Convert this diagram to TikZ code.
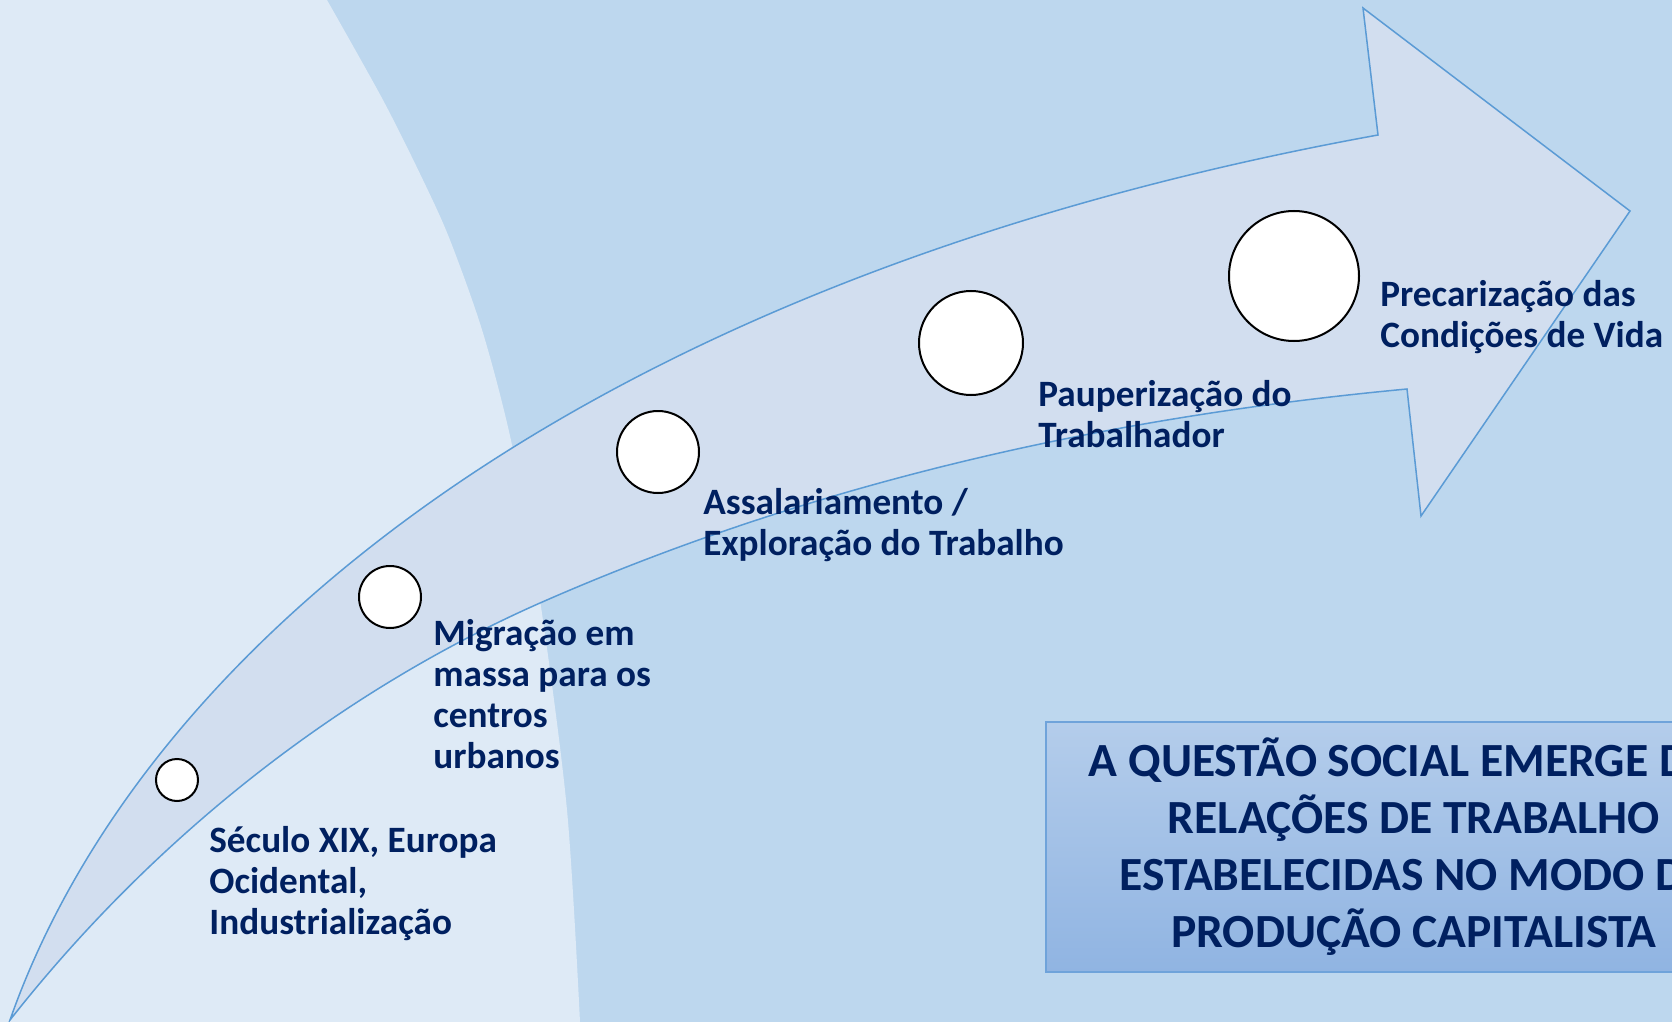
\documentclass[tikz,border=0pt]{standalone}
\usepackage{fontspec}
\setmainfont{Carlito}

\definecolor{fundo}{HTML}{BDD7EE}
\definecolor{fundoclaro}{HTML}{DEEAF6}
\definecolor{seta}{HTML}{D2DEEF}
\definecolor{contorno}{HTML}{5B9BD5}
\definecolor{azulescuro}{HTML}{002060}
\definecolor{caixatopo}{HTML}{B4CDEB}
\definecolor{caixabase}{HTML}{90B4E2}
\definecolor{caixaborda}{HTML}{6FA3DA}

\tikzset{
  etapa/.style={circle, draw=black, line width=1pt, fill=white, inner sep=0pt},
  rotulo/.style={anchor=base west, align=left, inner sep=0pt, text=azulescuro,
    font=\bfseries\fontsize{18.6pt}{20.5pt}\selectfont},
  caixa/.style={rectangle, draw=caixaborda, line width=0.75pt, top color=caixatopo,
    bottom color=caixabase, text=azulescuro, align=center, inner sep=0pt,
    font=\bfseries\fontsize{23.8pt}{28.5pt}\selectfont}
}

\begin{document}
\begin{tikzpicture}[x=0.5pt,y=-0.5pt]
\useasboundingbox (0,0) rectangle (1672,1022);
\clip (0,0) rectangle (1672,1022);
% fundo
\fill[fundo] (0,0) rectangle (1672,1022);
\fill[fundoclaro] (0,0) -- plot[smooth] coordinates {(327,0) (383,100) (423,180) (450,240) (483,333) (512,445) (540,600) (567,810) (580,1022)} -- (0,1022) -- cycle;
% seta curva
\filldraw[fill=seta, draw=contorno, line width=0.75pt]
  (10,1020) .. controls (140,650) and (580,280) .. (1378,135)
  -- (1363,8) -- (1630,211) -- (1421,516) -- (1407,389)
  .. controls (1108,417) and (815,482) .. (540,603)
  .. controls (334,694) and (150,842) .. (10,1020) -- cycle;
% etapas
\node[etapa, minimum size=21pt] (e1) at (177,780) {};
\node[etapa, minimum size=31pt] (e2) at (390,597) {};
\node[etapa, minimum size=41pt] (e3) at (658,452) {};
\node[etapa, minimum size=52pt] (e4) at (971,343) {};
\node[etapa, minimum size=65pt] (e5) at (1294,276) {};
% textos (ancorados na linha de base da ultima linha)
\node[rotulo] (seculo) at (209,934) {Século XIX, Europa\\Ocidental,\\Industrialização};
\node[rotulo] (migracao) at (433,768) {Migração em\\massa para os\\centros\\urbanos};
\node[rotulo] (salario) at (703,555) {Assalariamento /\\Exploração do Trabalho};
\node[rotulo] (pauper) at (1038,447) {Pauperização do\\Trabalhador};
\node[rotulo] (precar) at (1380,347) {Precarização das\\Condições de Vida};
% caixa
\node[caixa, minimum width=368pt, minimum height=125pt] (questao) at (1414,847)
  {A QUESTÃO SOCIAL EMERGE DAS\\RELAÇÕES DE TRABALHO\\ESTABELECIDAS NO MODO DE\\PRODUÇÃO CAPITALISTA};
\end{tikzpicture}
\end{document}
